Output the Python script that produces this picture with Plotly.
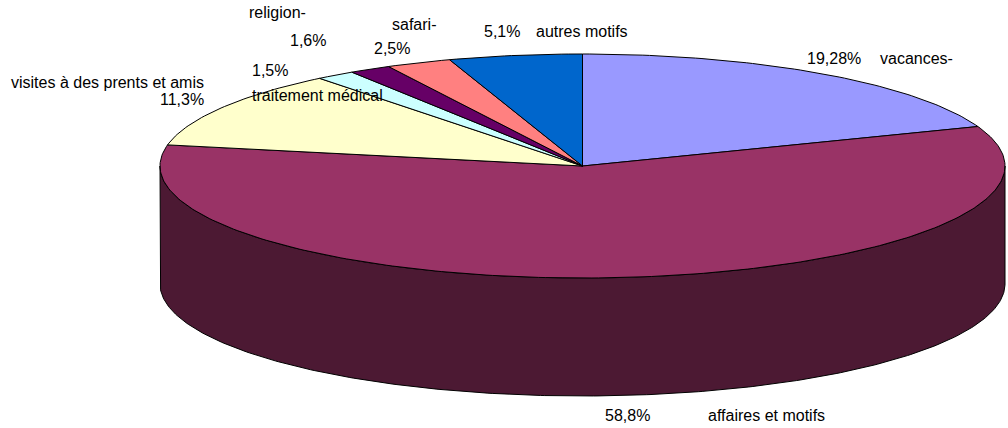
import numpy as np
import plotly.graph_objects as go

# ---- data ----
categories = ["vacances-", "affaires et motifs", "visites à des prents et amis",
              "traitement médical", "religion-", "safari-", "autres motifs"]
values = [19.28, 58.8, 11.3, 1.5, 1.6, 2.5, 5.1]
colors = ["#9999FF", "#993366", "#FFFFCC", "#CCFFFF", "#660066", "#FF8080", "#0066CC"]

# ---- geometry (pixel space) ----
W, H = 1008, 428
cx, cy = 582.5, 166.0
rx, ry = 422.5, 112.0
depth = 118.0

def darker(hexc, f=0.5):
    h = hexc.lstrip("#")
    r, g, b = (int(h[i:i + 2], 16) for i in (0, 2, 4))
    return "rgb(%d,%d,%d)" % (r * f, g * f, b * f)

def pt(theta, dy=0.0):
    # theta in radians, clockwise from 12 o'clock
    return cx + rx * np.sin(theta), cy - ry * np.cos(theta) + dy

total = sum(values)
fracs = np.cumsum([0] + values) / total
angles = fracs * 2 * np.pi

fig = go.Figure()

# side walls (only front half visible: pi/2 .. 3pi/2)
for i, v in enumerate(values):
    a0, a1 = angles[i], angles[i + 1]
    s0, s1 = max(a0, np.pi / 2), min(a1, 3 * np.pi / 2)
    if s1 <= s0:
        continue
    t = np.linspace(s0, s1, 300)
    xt, yt = pt(t)
    xb, yb = pt(t[::-1], depth)
    xs = np.concatenate([xt, xb, xt[:1]])
    ys = np.concatenate([yt, yb, yt[:1]])
    fig.add_trace(go.Scatter(x=xs, y=ys, mode="lines", fill="toself",
                             fillcolor=darker(colors[i]),
                             line=dict(color="black", width=1),
                             hoverinfo="skip", showlegend=False))

# top faces
for i, v in enumerate(values):
    a0, a1 = angles[i], angles[i + 1]
    n = max(4, int(400 * (a1 - a0) / (2 * np.pi)))
    t = np.linspace(a0, a1, n)
    xa, ya = pt(t)
    xs = np.concatenate([[cx], xa, [cx]])
    ys = np.concatenate([[cy], ya, [cy]])
    fig.add_trace(go.Scatter(x=xs, y=ys, mode="lines", fill="toself",
                             fillcolor=colors[i],
                             line=dict(color="black", width=1),
                             name=categories[i], hoverinfo="name",
                             showlegend=False))

def pct(v):
    return ("%g" % v).replace(".", ",") + "%"

# label layout: (category x, y, anchor), (percent x, y, anchor)
cat_pos = [(878, 58, "left"), (706, 415, "left"), (206, 82, "right"),
           (250, 95, "left"), (247, 12, "left"), (390, 24, "left"), (534, 31, "left")]
pct_pos = [(805, 58, "left"), (603, 415, "left"), (206, 99, "right"),
           (250, 70, "left"), (288, 40, "left"), (372, 48, "left"), (482, 31, "left")]

font = dict(family="Liberation Sans, Arial, sans-serif", size=16, color="black")
for i in range(len(values)):
    x, y, a = cat_pos[i]
    fig.add_annotation(x=x, y=y, text=categories[i], showarrow=False,
                       xanchor=a, yanchor="middle", font=font)
    x, y, a = pct_pos[i]
    fig.add_annotation(x=x, y=y, text=pct(values[i]), showarrow=False,
                       xanchor=a, yanchor="middle", font=font)

fig.update_layout(
    width=W, height=H,
    margin=dict(l=0, r=0, t=0, b=0),
    paper_bgcolor="white", plot_bgcolor="white",
    xaxis=dict(range=[0, W], visible=False, fixedrange=True),
    yaxis=dict(range=[H, 0], visible=False, fixedrange=True),
)

fig.write_html("out.html",
               post_script="document.body.style.margin='0';document.body.style.overflow='hidden';",
               config={"displayModeBar": False})
